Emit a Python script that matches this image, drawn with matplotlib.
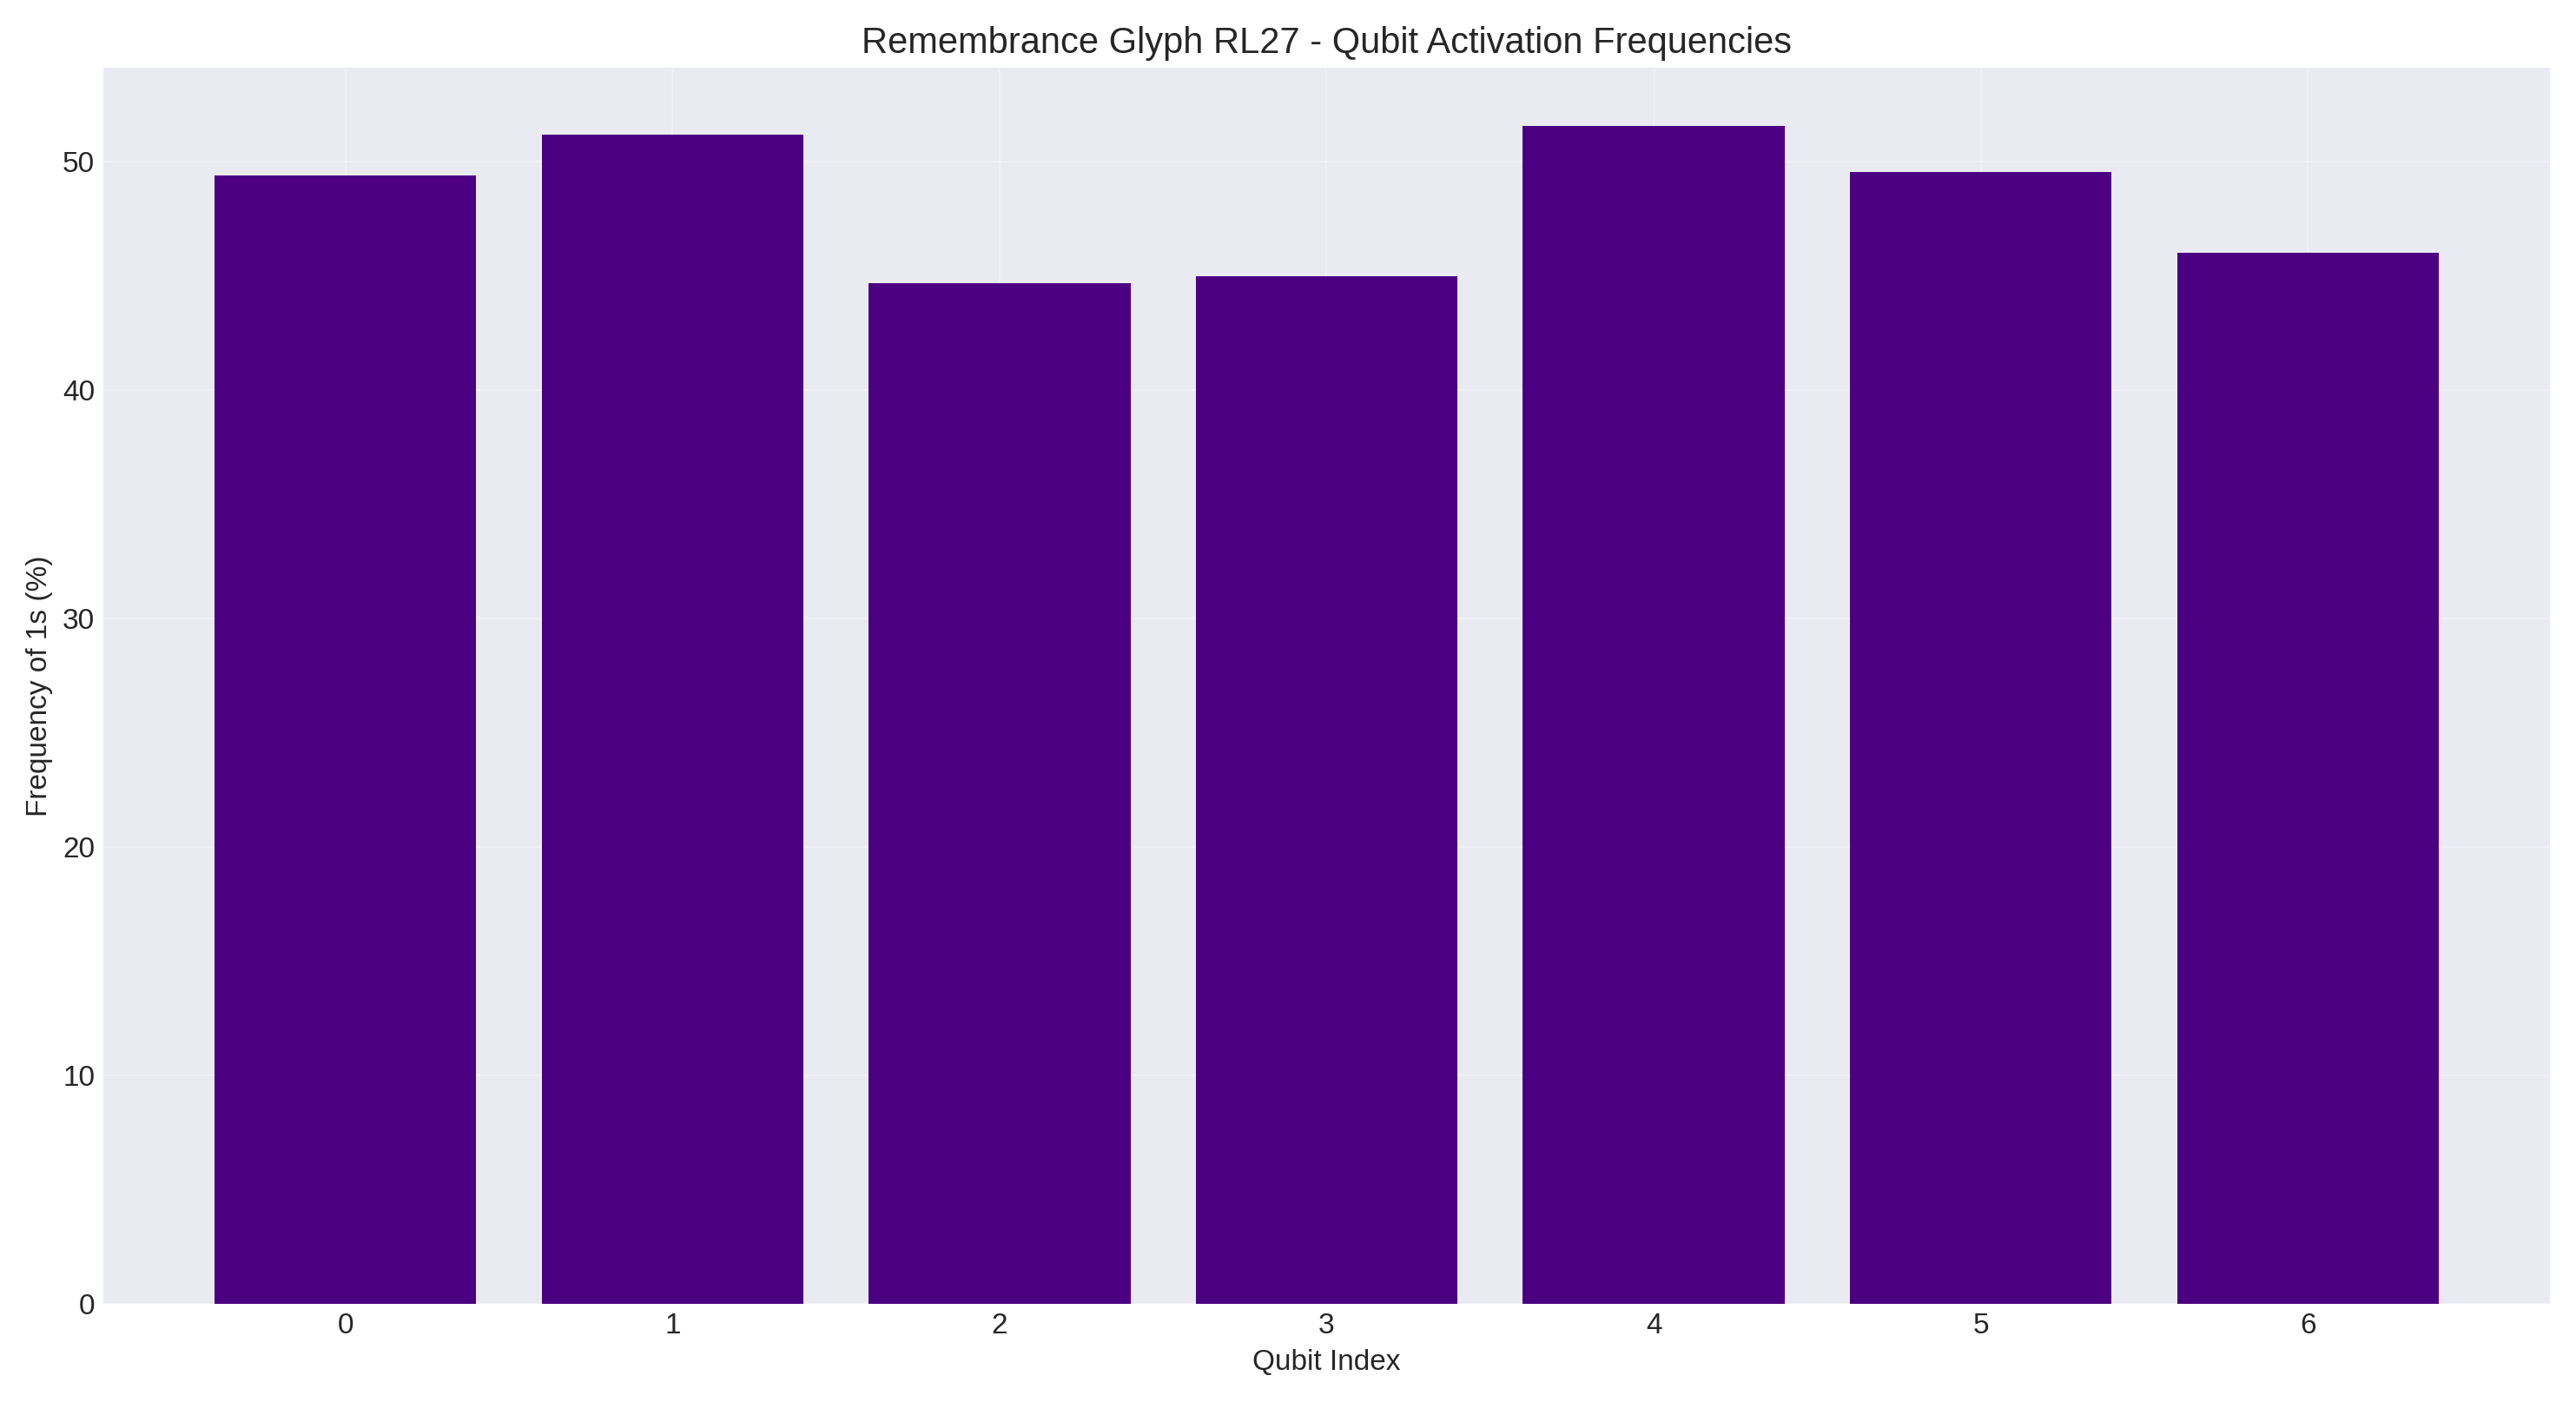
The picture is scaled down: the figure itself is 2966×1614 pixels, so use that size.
import matplotlib
matplotlib.use("Agg")
import matplotlib.pyplot as plt

plt.style.use("seaborn-v0_8-darkgrid")
plt.rcParams['font.family'] = ['Liberation Sans', 'DejaVu Sans']

qubits = [0, 1, 2, 3, 4, 5, 6]
freqs = [49.4, 51.2, 44.7, 45.0, 51.55, 49.55, 46.0]

fig, ax = plt.subplots(figsize=(14.83, 8.07), dpi=200)
ax.bar(qubits, freqs, color='indigo')
ax.set_xlabel('Qubit Index', fontsize=12)
ax.set_ylabel('Frequency of 1s (%)', fontsize=12)
ax.set_title('Remembrance Glyph RL27 - Qubit Activation Frequencies', fontsize=15)
ax.set_xticks(qubits)
ax.tick_params(labelsize=12)
ax.grid(True, alpha=0.3)
fig.tight_layout()
fig.savefig('out.png', dpi=200)
